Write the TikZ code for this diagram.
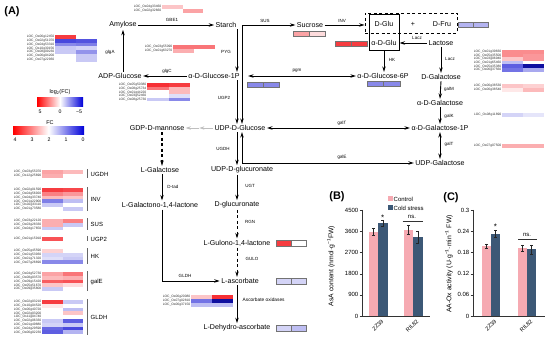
\documentclass[tikz,border=0pt]{standalone}
\usepackage{fontspec}
\setmainfont{Liberation Sans}
\usetikzlibrary{arrows.meta,calc}
\definecolor{hr}{RGB}{245,25,30}
\definecolor{hb}{RGB}{40,40,215}
\definecolor{hbd}{RGB}{15,15,160}
\definecolor{ctl}{RGB}{246,170,178}
\definecolor{cold}{RGB}{60,88,118}
\newcommand\hmap[6]{%
  \foreach \lab/\ca/\cb [count=\i] in {#6}{%
    \fill[fill=\ca] (#2,{#3+(\i-1)*#5}) rectangle ++(#4,#5);
    \fill[fill=\cb] ({#2+#4},{#3+(\i-1)*#5}) rectangle ++(#4,#5);
    \node[gene,anchor=east] (#1\i) at ({#2-0.4},{#3+(\i-0.5)*#5}) {\lab};
  }}
\newcommand\hpair[6]{%
  \filldraw[fill=#5,draw=black!55,line width=0.3pt] (#1,#2) rectangle ++(#3,#4);
  \filldraw[fill=#6,draw=black!55,line width=0.3pt] ({#1+#3},#2) rectangle ++(#3,#4);}
\newcommand\grp[4]{%
  \draw[black!60,line width=0.6pt] (87,#1) -- (87,#2);
  \node[grp,anchor=west] (#3) at (90,{(#1+#2)/2}) {#4};}
\newcommand\ebar[3]{%
  \draw[line width=0.35pt,black!85] (#1,{#2-#3}) -- (#1,{#2+#3})
    ({#1-1.3},{#2-#3}) -- ({#1+1.3},{#2-#3}) ({#1-1.3},{#2+#3}) -- ({#1+1.3},{#2+#3});}
\begin{document}
\begin{tikzpicture}[x=1pt,y=-1pt,
  met/.style={font=\fontsize{7.1}{8}\selectfont,inner sep=1.3pt},
  enz/.style={font=\fontsize{4.5}{5}\selectfont,inner sep=0.5pt},
  gene/.style={font=\fontsize{3.3}{3.5}\selectfont,inner sep=0.1pt,text=black!80},
  grp/.style={font=\fontsize{6}{7}\selectfont,inner sep=0.5pt},
  tck/.style={font=\fontsize{6}{7}\selectfont,inner sep=0.5pt},
  xtl/.style={font=\fontsize{5.6}{6}\selectfont,inner sep=0pt,rotate=45,anchor=north east},
  ttl/.style={font=\fontsize{6.8}{8}\selectfont,inner sep=0.5pt},
  pan/.style={font=\bfseries\fontsize{11}{13}\selectfont,inner sep=0.5pt},
  arr/.style={line width=0.9pt,-{Stealth[length=5.5pt,width=3.4pt]}},
  darr/.style={line width=0.9pt,{Stealth[length=5.5pt,width=3.4pt]}-{Stealth[length=5.5pt,width=3.4pt]}},
  dsh/.style={dash pattern=on 3pt off 2.5pt},
  garr/.style={line width=0.9pt,black!25,-{Stealth[length=5pt,width=3.4pt]}},
  axl/.style={line width=0.5pt,black!80}]
\fill[white] (0,0) rectangle (550,344);
\useasboundingbox (0,0) rectangle (550,344);

% ---------- panel label
\node[pan] (labA) at (12,12) {(A)};

% ---------- metabolites
\node[met] (amylose) at (123,25) {Amylose};
\node[met] (starch) at (226,25) {Starch};
\node[met] (sucrose) at (310,25) {Sucrose};
\node[met] (dglu) at (384,24) {D-Glu};
\node[met] (plus) at (413,24) {+};
\node[met] (dfru) at (442,24) {D-Fru};
\node[met] (aglu) at (384,43) {α-D-Glu};
\node[met] (lactose) at (441,43) {Lactose};
\node[met] (adpglc) at (120,76) {ADP-Glucose};
\node[met] (g1p) at (214,76) {α-D-Glucose-1P};
\node[met] (g6p) at (383,76) {α-D-Glucose-6P};
\node[met] (dgal) at (441,77) {D-Galactose};
\node[met] (agal) at (440,103) {α-D-Galactose};
\node[met] (gal1p) at (440,128) {α-D-Galactose-1P};
\node[met] (udpgal) at (440,163) {UDP-Galactose};
\node[met] (gdpman) at (157,128) {GDP-D-mannose};
\node[met] (udpglc) at (240,128) {UDP-D-Glucose};
\node[met] (lgal) at (160,170) {L-Galactose};
\node[met] (udpgluc) at (242,170) {UDP-D-glucuronate};
\node[met] (lgall) at (160,205) {L-Galactono-1,4-lactone};
\node[met] (dgluc) at (237,205) {D-glucuronate};
\node[met] (lgul) at (237,243) {L-Gulono-1,4-lactone};
\node[met] (lasc) at (240,281) {L-ascorbate};
\node[met] (ldha) at (237,328) {L-Dehydro-ascorbate};

% boxes
\node[draw,line width=0.9pt,minimum width=30pt,minimum height=36pt,inner sep=0pt] (glubox) at (384,32) {};
\node[draw,line width=0.8pt,dsh,minimum width=92pt,minimum height=20pt,inner sep=0pt] (frubox) at (411,23) {};

\coordinate (colA) at (237,0);
\coordinate (colB) at (242,0);
\coordinate (colC) at (162,0);

% ---------- connectors
\draw[arr] (adpglc.north -| amylose) -- (amylose.south);
\draw[arr] (amylose.east) -- (starch.west);
\draw[arr] (starch.south -| colA) -- (g1p.north -| colA);
\draw[arr] (g1p.west) -- (adpglc.east);
\draw[darr] (sucrose.west) -- (sucrose.west -| colB) -- (udpglc.north -| colB);
\draw[arr] (sucrose.east) -- (sucrose.east -| frubox.west);
\draw[arr] (lactose.west) -- (lactose.west -| glubox.east);
\draw[arr] (lactose.south) -- (dgal.north);
\draw[arr] (glubox.south) -- (glubox.south |- g6p.north);
\draw[darr] (g6p.west) -- ([xshift=7pt]g1p.east);
\draw[arr] (g1p.south -| colA) -- (udpglc.north -| colA);
\draw[arr] (dgal.south) -- (agal.north);
\draw[arr] (agal.south) -- (gal1p.north);
\draw[darr] (gal1p.south) -- (udpgal.north);
\draw[darr] (udpglc.east) -- (gal1p.west);
\draw[darr] (udpgal.west) -- (udpgal.west -| colB) -- (udpglc.south -| colB);
\draw[arr] (udpglc.south -| colA) -- (udpgluc.north -| colA);
\draw[arr] (udpgluc.south -| colA) -- (dgluc.north -| colA);
\draw[arr,dsh] (dgluc.south -| colA) -- (lgul.north -| colA);
\draw[arr,dsh] (lgul.south -| colA) -- (lasc.north -| colA);
\draw[arr] (lasc.south -| colA) -- (ldha.north -| colA);
\draw[arr] (lgall.south -| colC) -- (lasc.west -| colC) -- (lasc.west);
\draw[arr] (lgal.south -| colC) -- (lgall.north -| colC);
\draw[arr,dsh,line width=1.1pt] (gdpman.south -| colC) -- (lgal.north -| colC);
\coordinate (gm) at ($(gdpman.east)!0.5!(udpglc.west)$);
\draw[garr] (udpglc.west) -- (gm);
\draw[garr] (gm) -- (gdpman.east);

% ---------- enzyme labels
\node[enz] (eGBE) at (172,20) {GBE1};
\node[enz] (eglgA) at (110,52) {glgA};
\node[enz] (ePYG) at (226,52) {PYG};
\node[enz] (eglgC) at (167,71) {glgC};
\node[enz] (eSUS) at (265,21) {SUS};
\node[enz] (eINV) at (342,21) {INV};
\node[enz] (eLac1) at (417,38) {Lacz};
\node[enz] (eLac2) at (450,59) {Lacz};
\node[enz] (eHK) at (392,60) {HK};
\node[enz] (epgm) at (297,71) {pgm};
\node[enz] (eUGP) at (224,98) {UGP2};
\node[enz] (egalM) at (449,89) {galM};
\node[enz] (egalK) at (449,116) {galK};
\node[enz] (egalT2) at (449,144) {galT};
\node[enz,rotate=4] (egalT) at (342,123) {galT};
\node[enz,rotate=4] (egalE) at (342,157) {galE};
\node[enz] (eUGDH) at (223,149) {UGDH};
\node[enz] (eDtad) at (173,187) {D-tad};
\node[enz] (eUGT) at (250,186) {UGT};
\node[enz] (eRGN) at (250,222) {RGN};
\node[enz] (eGULO) at (252,259) {GULO};
\node[enz] (eGLDH) at (185,276) {GLDH};
\node[enz,font=\fontsize{4.8}{5}\selectfont,anchor=west] (eAO) at (242,300) {Ascorbate oxidases};

% ---------- heatmaps next to metabolites
\hpair{293}{31}{16}{5}{hr!40}{hr!15}
\hpair{335}{41}{16}{5.5}{hr!85}{hr!85}
\hpair{458}{22}{15}{5}{hb!35}{hb!35}
\hpair{367}{81}{16.5}{5.5}{hb!55}{hb!55}
\hpair{247}{82}{16}{5}{hb!55}{hb!55}
\hpair{276}{240}{15}{6}{hr!85}{white}
\hpair{276}{278}{15}{6}{hb!20}{hb!20}
\hpair{276}{325}{15}{6}{hb!20}{hb!30}

% ---------- gene heatmaps
\hmap{gb}{162}{5}{20.5}{4}{LOC\_Os04g33460/hr!25/white,LOC\_Os02g32660/white/hr!40}
\hmap{py}{173}{45}{21}{4}{LOC\_Os03g55090/hr!60/hr!60,LOC\_Os01g63270/hr!35/white}
\hmap{ga}{55}{35}{21}{3.8}{LOC\_Os06g12450/hr!85/white,LOC\_Os02g51070/hb!85/hb!80,LOC\_Os04g53310/hb!55/hb!60,LOC\_Os10g30156/hb!25/hb!20,LOC\_Os08g09230/hb!25/hb!50,LOC\_Os06g04200/white/hb!25,LOC\_Os07g22930/white/hb!25}
\hmap{gc}{147}{83}{21.5}{3.7}{LOC\_Os05g50380/hr!90/hr!85,LOC\_Os08g25734/hr!60/hr!30,LOC\_Os01g44220/white/hr!30,LOC\_Os03g52460/white/hb!15,LOC\_Os08g25730/hb!25/hb!55}
\hmap{lz}{502}{50}{21}{3.6}{LOC\_Os01g39830/hr!50/hr!50,LOC\_Os05g35500/hr!50/hr!45,LOC\_Os03g06940/hr!25/hr!45,LOC\_Os01g65460/hb!30/white,LOC\_Os05g35380/hb!75/hbd,LOC\_Os06g37560/hb!65/hb!40}
\hmap{glm}{502}{84}{21}{4}{LOC\_Os06g38530/hr!25/hr!20,LOC\_Os06g38540/hr!10/hr!30}
\hmap{gk}{502}{113}{21}{4}{LOC\_Os08g11890/hb!20/hb!12}
\hmap{gt}{502}{144}{21}{4}{LOC\_Os07g07500/hr!35/hr!35}
\hmap{ao}{191}{295}{21}{4}{LOC\_Os06g20080/hr!25/hr!90,LOC\_Os07g02810/hb!65/hbd,LOC\_Os06g37150/hb!30/hb!30}
% left column
\hmap{ug}{42}{170}{20.5}{3.8}{LOC\_Os03g55070/hr!40/hr!30,LOC\_Os12g25690/hr!35/white}
\hmap{iv}{42}{188}{20.5}{3.8}{LOC\_Os02g01590/hr!85/hr!80,LOC\_Os04g56920/hr!55/hr!45,LOC\_Os04g33740/hr!30/hr!25,LOC\_Os01g22900/hb!60/hb!30,LOC\_Os02g33110/hb!25/white,LOC\_Os01g73580/white/hb!25}
\hmap{su}{42}{219}{20.5}{3.8}{LOC\_Os03g22120/hr!35/hr!55,LOC\_Os03g28330/hr!35/hb!25,LOC\_Os04g17650/hb!25/white}
\hmap{up}{42}{237}{20.5}{3.8}{LOC\_Os01g15910/hr!75/white}
\hmap{hk}{42}{249}{20.5}{3.8}{LOC\_Os05g45590/hr!20/white,LOC\_Os01g53930/hb!20/hb!20,LOC\_Os01g71320/hb!15/hb!25,LOC\_Os07g26690/hb!55/hb!55}
\hmap{ge}{42}{272}{20.5}{3.8}{LOC\_Os04g52730/hr!40/hr!60,LOC\_Os08g03570/hr!30/hr!35,LOC\_Os09g15420/hr!70/hr!75,LOC\_Os05g51670/hr!25/hr!15,LOC\_Os09g35800/hb!25/white}
\hmap{gl}{42}{300}{20.5}{3.8}{LOC\_Os02g03210/hr!85/hb!25,LOC\_Os10g04520/hr!10/white,LOC\_Os06g40720/white/hb!30,LOC\_Os02g03200/white/hr!25,LOC\_Os11g04740/white/white,LOC\_Os02g06330/hb!25/hb!75,LOC\_Os01g49880/hb!20/hb!25,LOC\_Os04g29590/hb!70/hb!85,LOC\_Os06g02230/hb!75/hb!35}
\grp{169.5}{178.5}{gUGDH}{UGDH}
\grp{187.5}{211.5}{gINV}{INV}
\grp{218.5}{230.5}{gSUS}{SUS}
\grp{236.5}{241.5}{gUGP}{UGP2}
\grp{248.5}{264.5}{gHK}{HK}
\grp{271.5}{291.5}{ggalE}{galE}
\grp{299.5}{335.5}{gGLDH}{GLDH}

% ---------- colour bars
\node[font=\fontsize{5.5}{6}\selectfont,inner sep=0.5pt] (cb1t) at (60,92) {log\textsubscript{2}(FC)};
\shade[left color=red,right color=blue!85!black,middle color=white] (37,98) rectangle (83,107);
\node[tck,font=\fontsize{5.2}{6}\selectfont] (cb1a) at (40,112) {5};
\node[tck,font=\fontsize{5.2}{6}\selectfont] (cb1b) at (60,112) {0};
\node[tck,font=\fontsize{5.2}{6}\selectfont] (cb1c) at (79,112) {−5};
\node[font=\fontsize{5.5}{6}\selectfont,inner sep=0.5pt] (cb2t) at (50,123) {FC};
\shade[left color=red,right color=blue!85!black,middle color=white] (13,127) rectangle (84,135);
\foreach \v/\xx [count=\k] in {4/15,3/32,2/49,1/66,0/83}
  \node[tck,font=\fontsize{5.2}{6}\selectfont] (cb2\k) at (\xx,140) {\v};

% ---------- chart B
\node[pan] (labB) at (337,197) {(B)};
\fill[ctl] (388,196.5) rectangle ++(4.5,4.5);
\node[tck,anchor=west] (legc) at (393,199) {Control};
\fill[cold] (388,205.5) rectangle ++(4.5,4.5);
\node[tck,anchor=west] (legs) at (393,208) {Cold stress};
\draw[axl] (362,210) -- (362,316) -- (430,316);
\foreach \t [count=\k from 0] in {0,900,1800,2700,3600,4500}{
  \draw[axl] (359.5,{316-\k*21.1}) -- (362,{316-\k*21.1});
  \node[tck,anchor=east] (bt\k) at (359,{316-\k*21.1}) {\t};}
\node[ttl,rotate=90] (bylab) at (331,266) {AsA content (nmol·g\textsuperscript{−1}FW)};
\fill[ctl] (368.5,316) rectangle (378,232);
\fill[cold] (378,316) rectangle (387.5,223);
\fill[ctl] (403.5,316) rectangle (413,230);
\fill[cold] (413,316) rectangle (422.5,237);
\ebar{373.25}{232}{3.5}
\ebar{382.75}{223}{3}
\ebar{408.25}{230}{4.5}
\ebar{417.75}{237}{6}
\node[font=\fontsize{8}{8}\selectfont,inner sep=0pt] (bs1) at (382.75,217.5) {*};
\node[tck] (bns) at (412,216.5) {ns.};
\draw[axl] (402.5,221.5) -- (422.5,221.5);
\node[xtl] (bx1) at (381,319) {ZZ39};
\node[xtl] (bx2) at (416,319) {RIL82};

% ---------- chart C
\node[pan] (labC) at (451,198) {(C)};
\draw[axl] (473,210) -- (473,316) -- (545,316);
\foreach \t [count=\k from 0] in {0,0.06,0.12,0.18,0.24,0.3}{
  \draw[axl] (470.5,{316-\k*21.1}) -- (473,{316-\k*21.1});
  \node[tck,anchor=east] (ct\k) at (470,{316-\k*21.1}) {\t};}
\node[ttl,rotate=90] (cylab) at (449,264) {AA-Ox activity (U·g\textsuperscript{−1}·min\textsuperscript{−1} FW)};
\fill[ctl] (482,316) rectangle (491,246);
\fill[cold] (491,316) rectangle (500,234);
\fill[ctl] (518,316) rectangle (527,248);
\fill[cold] (527,316) rectangle (536,249.5);
\ebar{486.5}{246}{2.2}
\ebar{495.5}{234}{3.5}
\ebar{522.5}{248}{3}
\ebar{531.5}{249.5}{4.5}
\node[font=\fontsize{8}{8}\selectfont,inner sep=0pt] (cs1) at (495.5,227) {*};
\node[tck] (cns) at (527,234.5) {ns.};
\draw[axl] (518,239.5) -- (537,239.5);
\node[xtl] (cx1) at (494,319) {ZZ39};
\node[xtl] (cx2) at (530,319) {RIL82};
\end{tikzpicture}
\end{document}
